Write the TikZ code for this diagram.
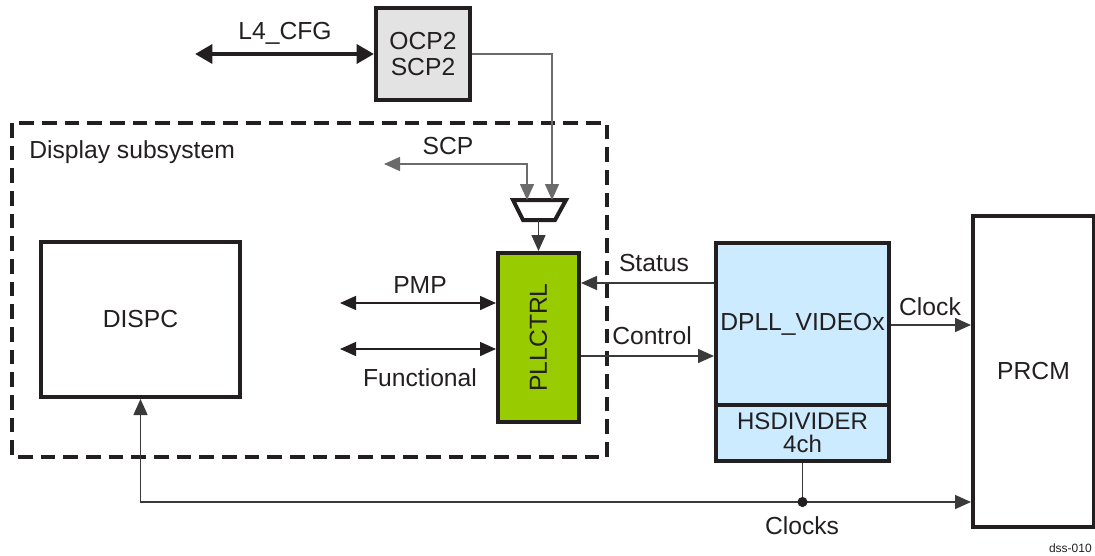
\documentclass[tikz,border=0pt]{standalone}
\usepackage{fontspec}
\setmainfont{Liberation Sans}
\usetikzlibrary{arrows.meta,calc,positioning}
\definecolor{ink}{HTML}{231F20}
\definecolor{wire}{HTML}{3A3A3A}
\definecolor{pllgreen}{HTML}{99CC00}
\definecolor{dpllblue}{HTML}{CCEBFF}
\definecolor{ocpgray}{HTML}{E3E3E3}

\begin{document}
\begin{tikzpicture}[x=0.75pt,y=-0.75pt,
  block/.style={draw=ink,line width=3pt,inner sep=0pt,align=center,
    font=\fontsize{18.5}{20}\selectfont,text=ink},
  label/.style={text=ink,font=\fontsize{18.5}{20}\selectfont,inner sep=0pt},
  wirearrow/.style={draw=wire,line width=1.1pt,{Triangle[length=12pt,width=10.5pt]}-{Triangle[length=12pt,width=10.5pt]},color=ink},
  busarrow/.style={draw=ink,line width=3.2pt,{Triangle[length=13pt,width=14pt]}-{Triangle[length=13pt,width=14pt]}},
  sig/.style={draw=wire,line width=1.1pt,-{Triangle[length=12pt,width=10.5pt]}}
]
\useasboundingbox (0,0) rectangle (1095,556);

% display subsystem frame
\draw[ink,line width=2.4pt,dash pattern=on 11pt off 6pt] (12,123) rectangle (607,457);
\node[label,anchor=west] (dsslabel) at (29,152) {Display subsystem};

\node[block,fill=ocpgray,minimum width=70.5pt,minimum height=69pt] (ocp) at (423,54) {OCP2\\SCP2};
\node[block,fill=white,minimum width=149.25pt,minimum height=116.25pt] (dispc) at (140.5,319.5) {DISPC};
\node[block,fill=pllgreen,minimum width=60.75pt,minimum height=126.75pt] (pllctrl) at (538.5,337.5) {};
\node[label,rotate=90] (pllname) at (pllctrl) {PLLCTRL};
\node[block,fill=dpllblue,minimum width=129.75pt,minimum height=121.5pt] (dpll) at (802.5,324) {DPLL\_VIDEOx};
\node[block,fill=dpllblue,minimum width=129.75pt,minimum height=42pt,
  font=\fontsize{18}{17.5}\selectfont] (hsdiv) at (802.5,433) {HSDIVIDER\\4ch};
\node[block,fill=white,minimum width=90.75pt,minimum height=233.25pt] (prcm) at (1033.5,371.5) {PRCM};

% multiplexer
\coordinate (muxin1) at (527,200);
\coordinate (muxin2) at (552,200);
\coordinate (muxout) at (538.5,220);
\draw[ink,line width=3pt,line join=miter] (513,200) -- (566,200) -- (555,220) -- (523,220) -- cycle;

% configuration path
\coordinate (l4end) at (195,54);
\draw[busarrow] (l4end) -- (ocp.west);
\node[label] (l4label) at (285,33) {L4\_CFG};
\draw[sig,draw=wire!75] (ocp.east) -| (muxin2);
\coordinate (scpend) at (384,164);
\draw[wirearrow,draw=wire!75] (scpend) -| (muxin1);
\node[label] (scplabel) at (448,146) {SCP};
\draw[sig] (muxout) -- (pllctrl.north);

% pllctrl ports
\coordinate (pmpend) at (340,303);
\coordinate (funcend) at (340,349);
\draw[wirearrow] (pmpend) -- (pllctrl.west |- pmpend);
\draw[wirearrow] (funcend) -- (pllctrl.west |- funcend);
\node[label] (pmplabel) at (420,285) {PMP};
\node[label] (funclabel) at (420,378) {Functional};

\draw[sig] (dpll.west |- 0,283) -- (pllctrl.east |- 0,283);
\draw[sig] (pllctrl.east |- 0,356) -- (dpll.west |- 0,356);
\node[label] (statuslabel) at (654,263) {Status};
\node[label] (controllabel) at (652,336) {Control};

\draw[sig] (dpll.east |- 0,325) -- (prcm.west |- 0,325);
\node[label] (clocklabel) at (930,307) {Clock};

% clock distribution
\coordinate (tap) at (802.5,502);
\draw[wire,line width=1.1pt] (hsdiv.south) -- (tap);
\draw[sig] (tap) -- (prcm.west |- tap);
\draw[sig] (tap) -| (dispc.south);
\fill[ink] (tap) circle (3.8pt);
\node[label] (clockslabel) at (802,526) {Clocks};

\node[text=ink,font=\fontsize{9}{10}\selectfont,anchor=east,inner sep=0pt] (figid) at (1092,548) {dss-010};
\end{tikzpicture}
\end{document}
